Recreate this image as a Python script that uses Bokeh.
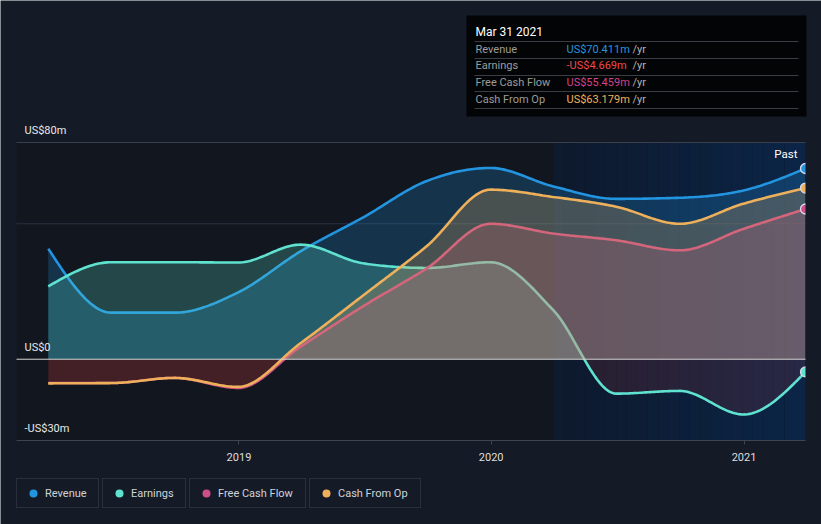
import numpy as np
import pandas as pd
from bokeh.plotting import figure
from bokeh.models import (Label, BoxAnnotation, Legend, LegendItem,
                          FixedTicker, DatetimeTickFormatter, Range1d)
from bokeh.embed import file_html
from bokeh.resources import INLINE

# ---------------- data (US$ millions, trailing twelve months) ----------------
dates = ["2018-03-31", "2018-06-30", "2018-09-30", "2018-12-31",
         "2019-03-31", "2019-06-30", "2019-09-30", "2019-12-31",
         "2020-03-31", "2020-06-30", "2020-09-30", "2020-12-31", "2021-03-31"]
revenue = [40.8, 17.2, 17.2, 24.7, 39.8, 52.4, 65.8, 70.6, 63.8, 59.2, 59.6, 62.3, 70.411]
earnings = [26.9, 35.8, 35.8, 35.7, 42.3, 35.4, 33.7, 35.8, 18.1, -12.7, -11.7, -20.4, -4.669]
free_cash_flow = [-8.8, -8.8, -6.9, -10.6, 4.6, 19.6, 33.6, 50.0, 46.4, 43.9, 40.2, 48.1, 55.459]
cash_from_op = [-8.9, -8.8, -6.9, -10.2, 5.9, 23.6, 41.8, 62.6, 59.9, 56.3, 50.0, 57.4, 63.179]

series_names = ["Revenue", "Earnings", "Free Cash Flow", "Cash From Op"]
series_values = [revenue, earnings, free_cash_flow, cash_from_op]
series_colors = ["#2394df", "#5fe3d0", "#cc4f87", "#eeb05a"]
value_colors = ["#2394df", "#f04848", "#d3428c", "#f2b35b"]

y_tick_values = [80, 0, -30]
y_tick_labels = ["US$80m", "US$0", "-US$30m"]
mid_grid = 50
x_tick_years = ["2019-01-01", "2020-01-01", "2021-01-01"]
past_start = "2020-03-31"
tooltip_title = "Mar 31 2021"

# ---------------- helpers ----------------
def to_ms(s):
    return (pd.to_datetime(s) - pd.Timestamp("1970-01-01")) / pd.Timedelta(milliseconds=1)

x_ms = np.array([to_ms(d) for d in dates], dtype=float)


def monotone(xs, ys, n=30):
    """Monotone cubic (d3 curveMonotoneX style) rendering of a line."""
    xs = np.asarray(xs, float)
    ys = np.asarray(ys, float)
    h = np.diff(xs)
    s = np.diff(ys) / h
    m = np.zeros_like(ys)
    for i in range(1, len(ys) - 1):
        p_ = (s[i - 1] * h[i] + s[i] * h[i - 1]) / (h[i - 1] + h[i])
        m[i] = (np.sign(s[i - 1]) + np.sign(s[i])) * min(abs(s[i - 1]), abs(s[i]), 0.5 * abs(p_))
    m[0] = (3 * s[0] - m[1]) / 2
    m[-1] = (3 * s[-1] - m[-2]) / 2
    out_x, out_y = [], []
    for i in range(len(xs) - 1):
        t = np.linspace(0, 1, n, endpoint=False)
        h00 = 2 * t**3 - 3 * t**2 + 1
        h10 = t**3 - 2 * t**2 + t
        h01 = -2 * t**3 + 3 * t**2
        h11 = t**3 - t**2
        out_x.append(xs[i] + t * h[i])
        out_y.append(h00 * ys[i] + h10 * h[i] * m[i] + h01 * ys[i + 1] + h11 * h[i] * m[i + 1])
    out_x.append([xs[-1]])
    out_y.append([ys[-1]])
    return np.concatenate(out_x), np.concatenate(out_y)


# ---------------- layout geometry (pixels) ----------------
W, H = 821, 524
PLOT_L, PLOT_R, PLOT_T, PLOT_B = 16, 805, 142, 440
BG = "#151b26"

x_start = x_ms[0] - 46 * 86400000.0
x_end = x_ms[-1]
y_lo, y_hi = min(y_tick_values), max(y_tick_values)
ppx = (PLOT_R - PLOT_L) / (x_end - x_start)
ppy = (PLOT_B - PLOT_T) / (y_hi - y_lo)
xr = Range1d(x_start - PLOT_L / ppx, x_end + (W - PLOT_R) / ppx)
yr = Range1d(y_lo - (H - PLOT_B) / ppy, y_hi + PLOT_T / ppy)

p = figure(width=W, height=H, x_axis_type="datetime", y_axis_location=None,
           x_range=xr, y_range=yr, output_backend="svg", toolbar_location=None,
           min_border=0)
p.background_fill_color = BG
p.border_fill_color = BG
p.outline_line_color = None
p.xgrid.visible = False
p.ygrid.visible = False

# plot area background
p.quad(left=[x_start], right=[x_end], bottom=[y_lo], top=[y_hi],
       fill_color="#12171f", line_color=None)

# "Past" band with horizontal gradient
n_strips = 24
edges = np.linspace(to_ms(past_start), x_end, n_strips + 1)
c0 = np.array([14, 26, 45])
c1 = np.array([12, 37, 71])
cols = []
for k in range(n_strips):
    f = k / (n_strips - 1)
    c = (c0 + (c1 - c0) * f).astype(int)
    cols.append("#%02x%02x%02x" % tuple(c))
p.quad(left=edges[:-1], right=edges[1:], bottom=y_lo, top=y_hi, fill_color=cols, line_color=None)

# faint mid grid line (under series)
p.segment(x0=[x_start], x1=[x_end], y0=[mid_grid], y1=[mid_grid], line_color="#283040", line_width=1)

# series: area fills + lines
for vals, col in zip(series_values, series_colors):
    sx, sy = monotone(x_ms, vals)
    p.varea(x=sx, y1=np.zeros_like(sy), y2=np.maximum(sy, 0), fill_color=col, fill_alpha=0.24)
    p.varea(x=sx, y1=np.minimum(sy, 0), y2=np.zeros_like(sy), fill_color="#e0403c", fill_alpha=0.13)
    p.line(sx, sy, line_color=col, line_width=2.6, line_alpha=1.0)

# legend dots (plain dots at the last point, hidden under the end markers)
legend_renderers = []
for vals, col in zip(series_values, series_colors):
    legend_renderers.append(p.scatter([x_ms[-1]], [vals[-1]], marker="circle", size=8,
                                      fill_color=col, line_color=None))

# end markers
for vals, col in zip(series_values, series_colors):
    p.scatter([x_ms[-1]], [vals[-1]], marker="circle", size=10, fill_color=col,
              line_color="#dcdcec", line_width=1.3)

# cover right of plot area (markers are cut at the plot edge)
p.quad(left=[x_end], right=[xr.end], bottom=[y_lo - 5], top=[y_hi + 5],
       fill_color=BG, line_color=None)

# horizontal guide lines
p.segment(x0=[x_start], x1=[x_end], y0=[y_hi], y1=[y_hi], line_color="#3a404b", line_width=1)
p.segment(x0=[x_start], x1=[x_end], y0=[0], y1=[0], line_color="#d4d4d4", line_width=1)
p.segment(x0=[x_start], x1=[x_end], y0=[y_lo], y1=[y_lo], line_color="#3f4550", line_width=1)

for v, lab in zip(y_tick_values, y_tick_labels):
    p.add_layout(Label(x=PLOT_L + 8, x_units="screen", y=v, y_units="data", y_offset=12,
                       text=lab, text_font="Roboto", text_font_size="11px",
                       text_color="#e8e8e8", text_baseline="middle"))

p.add_layout(Label(x=797, y=H - 153.5, x_units="screen", y_units="screen", text="Past",
                   text_font="Roboto", text_font_size="11.5px", text_color="#ffffff",
                   text_align="right", text_baseline="middle"))

# x axis drawn at the bottom of the plot area
p.xaxis.fixed_location = y_lo
p.xaxis.ticker = FixedTicker(ticks=[to_ms(d) for d in x_tick_years])
p.xaxis.formatter = DatetimeTickFormatter(years="%Y", months="%Y", days="%Y", hours="%Y")
p.xaxis.axis_line_color = None
p.xaxis.major_tick_line_color = "#3f4550"
p.xaxis.major_tick_out = 4
p.xaxis.major_tick_in = 0
p.xaxis.minor_tick_line_color = None
p.xaxis.major_label_text_color = "#dedede"
p.xaxis.major_label_text_font = "Roboto"
p.xaxis.major_label_text_font_size = "11px"
p.xaxis.major_label_standoff = 8

# legend: one boxed item per series
legend_x = [16, 102, 189, 309]
legend_lw = [49, 50, 83, 78]
for name, r, lx, lw in zip(series_names, legend_renderers, legend_x, legend_lw):
    leg = Legend(items=[LegendItem(label=name, renderers=[r])], location=(lx, 16),
                 orientation="horizontal", padding=4, margin=0, spacing=0,
                 glyph_width=24, glyph_height=20, label_height=18, label_width=lw,
                 label_standoff=0, label_text_font="Roboto", label_text_font_size="11px",
                 label_text_color="#cfd3da", border_line_color="#40454f",
                 border_line_width=1, background_fill_color=BG, background_fill_alpha=1)
    p.add_layout(leg)

# tooltip box (screen coords: origin bottom-left of canvas)
p.add_layout(BoxAnnotation(left=466, right=806, top=H - 15, bottom=H - 116,
                           left_units="screen", right_units="screen",
                           top_units="screen", bottom_units="screen",
                           fill_color="#030405", fill_alpha=1, line_color=None))
for yy in [41, 58, 75, 91, 108]:
    p.add_layout(BoxAnnotation(left=474, right=798, top=H - yy + 0.5, bottom=H - yy - 0.5,
                               left_units="screen", right_units="screen",
                               top_units="screen", bottom_units="screen",
                               fill_color="#3a3d43", fill_alpha=1, line_color=None))
p.add_layout(Label(x=475, y=H - 31.5, x_units="screen", y_units="screen", text=tooltip_title,
                   text_font="Roboto", text_font_size="12px", text_color="#ffffff",
                   text_baseline="middle"))
row_mid = [48.5, 65.2, 82, 98.7]
for name, vals, vcol, ym in zip(series_names, series_values, value_colors, row_mid):
    v = vals[-1]
    vtxt = ("-US$%.3fm" % abs(v)) if v < 0 else ("US$%.3fm" % v)
    p.add_layout(Label(x=475, y=H - ym, x_units="screen", y_units="screen", text=name,
                       text_font="Roboto", text_font_size="11px", text_color="#9c9c9c",
                       text_baseline="middle"))
    p.add_layout(Label(x=566, y=H - ym, x_units="screen", y_units="screen", text=vtxt,
                       text_font="Roboto", text_font_size="11px", text_color=vcol,
                       text_baseline="middle"))
    p.add_layout(Label(x=632, y=H - ym, x_units="screen", y_units="screen", text="/yr",
                       text_font="Roboto", text_font_size="11px", text_color="#b4b4b4",
                       text_baseline="middle"))

open("out.html", "w").write(file_html(p, INLINE))
